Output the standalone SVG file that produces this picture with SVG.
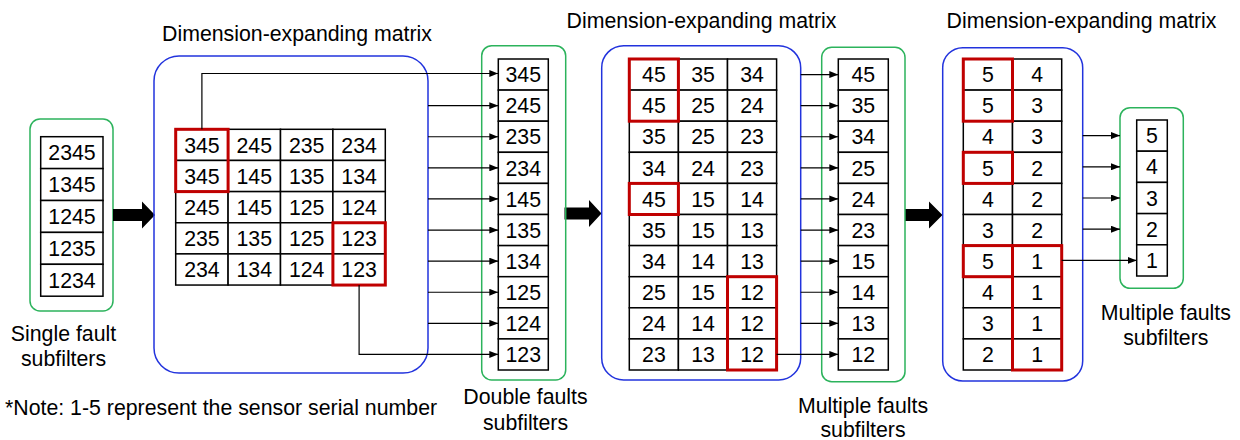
<svg xmlns="http://www.w3.org/2000/svg" width="1240" height="440" viewBox="0 0 1240 440">
<defs>
<marker id="ah" markerUnits="userSpaceOnUse" markerWidth="9" markerHeight="7" refX="9" refY="3.5" orient="auto"><path d="M0,0 L9,3.5 L0,7 z" fill="#000"/></marker>
<style>
.t{font-family:"Liberation Sans",Arial,sans-serif;font-size:21.3px;fill:#000;text-anchor:middle}
.n{font-family:"Liberation Sans",Arial,sans-serif;font-size:21.3px;fill:#000;text-anchor:start}
.c{fill:#fff;stroke:#000;stroke-width:1.5}
.r{fill:none;stroke:#c00000;stroke-width:3}
.b{fill:none;stroke:#2233dd;stroke-width:1.5}
.g{fill:none;stroke:#2cb35c;stroke-width:1.5}
.la{fill:none;stroke:#000;stroke-width:1.2;marker-end:url(#ah)}
.big{fill:#000}
</style>
</defs>

<!-- Titles and notes -->
<text class="t" x="297" y="40.5">Dimension-expanding matrix</text>
<text class="t" x="701.5" y="28">Dimension-expanding matrix</text>
<text class="t" x="1081.5" y="28">Dimension-expanding matrix</text>
<text class="n" x="5" y="415">*Note: 1-5 represent the sensor serial number</text>

<!-- Single fault subfilters -->
<g id="single">
<rect class="g" x="30" y="119" width="83" height="192" rx="10"/>
<rect class="c" x="40.7" y="136.7" width="62.3" height="31.9"/>
<rect class="c" x="40.7" y="168.6" width="62.3" height="31.9"/>
<rect class="c" x="40.7" y="200.5" width="62.3" height="31.9"/>
<rect class="c" x="40.7" y="232.4" width="62.3" height="31.9"/>
<rect class="c" x="40.7" y="264.3" width="62.3" height="31.9"/>
<text class="t" x="72" y="160.3">2345</text>
<text class="t" x="72" y="192.2">1345</text>
<text class="t" x="72" y="224.1">1245</text>
<text class="t" x="72" y="256">1235</text>
<text class="t" x="72" y="287.9">1234</text>
<text class="t" x="63.5" y="340.7">Single fault</text>
<text class="t" x="63.5" y="365.5">subfilters</text>
</g>

<!-- Big arrows -->
<g id="bigarrows">
<path class="big" d="M113,209 L142,209 L142,201.5 L155,215 L142,228.5 L142,221 L113,221 z"/>
<path class="big" d="M564.5,207.5 L589,207.5 L589,200 L601.5,213.5 L589,227 L589,219.5 L564.5,219.5 z"/>
<path class="big" d="M905,209 L929,209 L929,201.5 L942.5,215 L929,228.5 L929,221 L905,221 z"/>
</g>

<!-- Matrix 1 -->
<g id="matrix1">
<rect class="b" x="154" y="56" width="274" height="317" rx="25"/>
<g>
<rect class="c" x="175.7" y="129.3" width="52.4" height="31.15"/><rect class="c" x="228.1" y="129.3" width="52.4" height="31.15"/><rect class="c" x="280.5" y="129.3" width="52.4" height="31.15"/><rect class="c" x="332.9" y="129.3" width="52.4" height="31.15"/>
<rect class="c" x="175.7" y="160.45" width="52.4" height="31.15"/><rect class="c" x="228.1" y="160.45" width="52.4" height="31.15"/><rect class="c" x="280.5" y="160.45" width="52.4" height="31.15"/><rect class="c" x="332.9" y="160.45" width="52.4" height="31.15"/>
<rect class="c" x="175.7" y="191.6" width="52.4" height="31.15"/><rect class="c" x="228.1" y="191.6" width="52.4" height="31.15"/><rect class="c" x="280.5" y="191.6" width="52.4" height="31.15"/><rect class="c" x="332.9" y="191.6" width="52.4" height="31.15"/>
<rect class="c" x="175.7" y="222.75" width="52.4" height="31.15"/><rect class="c" x="228.1" y="222.75" width="52.4" height="31.15"/><rect class="c" x="280.5" y="222.75" width="52.4" height="31.15"/><rect class="c" x="332.9" y="222.75" width="52.4" height="31.15"/>
<rect class="c" x="175.7" y="253.9" width="52.4" height="31.15"/><rect class="c" x="228.1" y="253.9" width="52.4" height="31.15"/><rect class="c" x="280.5" y="253.9" width="52.4" height="31.15"/><rect class="c" x="332.9" y="253.9" width="52.4" height="31.15"/>
</g>
<text class="t" x="201.9" y="152.5">345</text><text class="t" x="254.3" y="152.5">245</text><text class="t" x="306.7" y="152.5">235</text><text class="t" x="359.1" y="152.5">234</text>
<text class="t" x="201.9" y="183.6">345</text><text class="t" x="254.3" y="183.6">145</text><text class="t" x="306.7" y="183.6">135</text><text class="t" x="359.1" y="183.6">134</text>
<text class="t" x="201.9" y="214.8">245</text><text class="t" x="254.3" y="214.8">145</text><text class="t" x="306.7" y="214.8">125</text><text class="t" x="359.1" y="214.8">124</text>
<text class="t" x="201.9" y="245.9">235</text><text class="t" x="254.3" y="245.9">135</text><text class="t" x="306.7" y="245.9">125</text><text class="t" x="359.1" y="245.9">123</text>
<text class="t" x="201.9" y="277.1">234</text><text class="t" x="254.3" y="277.1">134</text><text class="t" x="306.7" y="277.1">124</text><text class="t" x="359.1" y="277.1">123</text>
<rect class="r" x="175.7" y="129.3" width="52.4" height="62.3"/>
<rect class="r" x="332.9" y="222.75" width="52.4" height="62.3"/>
</g>

<!-- Double faults subfilters -->
<g id="double">
<rect class="g" x="481.7" y="45.7" width="84" height="334.3" rx="10"/>
<rect class="c" x="498.3" y="59" width="50" height="31.1"/>
<rect class="c" x="498.3" y="90.1" width="50" height="31.1"/>
<rect class="c" x="498.3" y="121.2" width="50" height="31.1"/>
<rect class="c" x="498.3" y="152.3" width="50" height="31.1"/>
<rect class="c" x="498.3" y="183.4" width="50" height="31.1"/>
<rect class="c" x="498.3" y="214.5" width="50" height="31.1"/>
<rect class="c" x="498.3" y="245.6" width="50" height="31.1"/>
<rect class="c" x="498.3" y="276.7" width="50" height="31.1"/>
<rect class="c" x="498.3" y="307.8" width="50" height="31.1"/>
<rect class="c" x="498.3" y="338.9" width="50" height="31.1"/>
<text class="t" x="523.3" y="82.2">345</text>
<text class="t" x="523.3" y="113.3">245</text>
<text class="t" x="523.3" y="144.4">235</text>
<text class="t" x="523.3" y="175.5">234</text>
<text class="t" x="523.3" y="206.6">145</text>
<text class="t" x="523.3" y="237.7">135</text>
<text class="t" x="523.3" y="268.8">134</text>
<text class="t" x="523.3" y="299.9">125</text>
<text class="t" x="523.3" y="331">124</text>
<text class="t" x="523.3" y="362.1">123</text>
<text class="t" x="525.5" y="404">Double faults</text>
<text class="t" x="525.5" y="430">subfilters</text>
</g>

<!-- Matrix 2 -->
<g id="matrix2">
<rect class="b" x="601.7" y="45.7" width="199" height="334.3" rx="22"/>
<g>
<rect class="c" x="629.3" y="59" width="49.1" height="31.1"/><rect class="c" x="678.4" y="59" width="49.1" height="31.1"/><rect class="c" x="727.5" y="59" width="49.1" height="31.1"/>
<rect class="c" x="629.3" y="90.1" width="49.1" height="31.1"/><rect class="c" x="678.4" y="90.1" width="49.1" height="31.1"/><rect class="c" x="727.5" y="90.1" width="49.1" height="31.1"/>
<rect class="c" x="629.3" y="121.2" width="49.1" height="31.1"/><rect class="c" x="678.4" y="121.2" width="49.1" height="31.1"/><rect class="c" x="727.5" y="121.2" width="49.1" height="31.1"/>
<rect class="c" x="629.3" y="152.3" width="49.1" height="31.1"/><rect class="c" x="678.4" y="152.3" width="49.1" height="31.1"/><rect class="c" x="727.5" y="152.3" width="49.1" height="31.1"/>
<rect class="c" x="629.3" y="183.4" width="49.1" height="31.1"/><rect class="c" x="678.4" y="183.4" width="49.1" height="31.1"/><rect class="c" x="727.5" y="183.4" width="49.1" height="31.1"/>
<rect class="c" x="629.3" y="214.5" width="49.1" height="31.1"/><rect class="c" x="678.4" y="214.5" width="49.1" height="31.1"/><rect class="c" x="727.5" y="214.5" width="49.1" height="31.1"/>
<rect class="c" x="629.3" y="245.6" width="49.1" height="31.1"/><rect class="c" x="678.4" y="245.6" width="49.1" height="31.1"/><rect class="c" x="727.5" y="245.6" width="49.1" height="31.1"/>
<rect class="c" x="629.3" y="276.7" width="49.1" height="31.1"/><rect class="c" x="678.4" y="276.7" width="49.1" height="31.1"/><rect class="c" x="727.5" y="276.7" width="49.1" height="31.1"/>
<rect class="c" x="629.3" y="307.8" width="49.1" height="31.1"/><rect class="c" x="678.4" y="307.8" width="49.1" height="31.1"/><rect class="c" x="727.5" y="307.8" width="49.1" height="31.1"/>
<rect class="c" x="629.3" y="338.9" width="49.1" height="31.1"/><rect class="c" x="678.4" y="338.9" width="49.1" height="31.1"/><rect class="c" x="727.5" y="338.9" width="49.1" height="31.1"/>
</g>
<text class="t" x="653.9" y="82.2">45</text><text class="t" x="703" y="82.2">35</text><text class="t" x="752.1" y="82.2">34</text>
<text class="t" x="653.9" y="113.3">45</text><text class="t" x="703" y="113.3">25</text><text class="t" x="752.1" y="113.3">24</text>
<text class="t" x="653.9" y="144.4">35</text><text class="t" x="703" y="144.4">25</text><text class="t" x="752.1" y="144.4">23</text>
<text class="t" x="653.9" y="175.5">34</text><text class="t" x="703" y="175.5">24</text><text class="t" x="752.1" y="175.5">23</text>
<text class="t" x="653.9" y="206.6">45</text><text class="t" x="703" y="206.6">15</text><text class="t" x="752.1" y="206.6">14</text>
<text class="t" x="653.9" y="237.7">35</text><text class="t" x="703" y="237.7">15</text><text class="t" x="752.1" y="237.7">13</text>
<text class="t" x="653.9" y="268.8">34</text><text class="t" x="703" y="268.8">14</text><text class="t" x="752.1" y="268.8">13</text>
<text class="t" x="653.9" y="299.9">25</text><text class="t" x="703" y="299.9">15</text><text class="t" x="752.1" y="299.9">12</text>
<text class="t" x="653.9" y="331">24</text><text class="t" x="703" y="331">14</text><text class="t" x="752.1" y="331">12</text>
<text class="t" x="653.9" y="362.1">23</text><text class="t" x="703" y="362.1">13</text><text class="t" x="752.1" y="362.1">12</text>
<rect class="r" x="629.3" y="59" width="49.1" height="62.2"/>
<rect class="r" x="629.3" y="183.4" width="49.1" height="31.1"/>
<rect class="r" x="727.5" y="276.7" width="49.1" height="93.3"/>
</g>

<!-- Multiple faults subfilters (middle) -->
<g id="multiple1">
<rect class="g" x="821.7" y="47.3" width="83.3" height="334.4" rx="10"/>
<rect class="c" x="838.3" y="59" width="50" height="31.1"/>
<rect class="c" x="838.3" y="90.1" width="50" height="31.1"/>
<rect class="c" x="838.3" y="121.2" width="50" height="31.1"/>
<rect class="c" x="838.3" y="152.3" width="50" height="31.1"/>
<rect class="c" x="838.3" y="183.4" width="50" height="31.1"/>
<rect class="c" x="838.3" y="214.5" width="50" height="31.1"/>
<rect class="c" x="838.3" y="245.6" width="50" height="31.1"/>
<rect class="c" x="838.3" y="276.7" width="50" height="31.1"/>
<rect class="c" x="838.3" y="307.8" width="50" height="31.1"/>
<rect class="c" x="838.3" y="338.9" width="50" height="31.1"/>
<text class="t" x="863.3" y="82.2">45</text>
<text class="t" x="863.3" y="113.3">35</text>
<text class="t" x="863.3" y="144.4">34</text>
<text class="t" x="863.3" y="175.5">25</text>
<text class="t" x="863.3" y="206.6">24</text>
<text class="t" x="863.3" y="237.7">23</text>
<text class="t" x="863.3" y="268.8">15</text>
<text class="t" x="863.3" y="299.9">14</text>
<text class="t" x="863.3" y="331">13</text>
<text class="t" x="863.3" y="362.1">12</text>
<text class="t" x="863" y="412.5">Multiple faults</text>
<text class="t" x="863" y="436.5">subfilters</text>
</g>

<!-- Matrix 3 -->
<g id="matrix3">
<rect class="b" x="942.7" y="47.7" width="140" height="333.3" rx="20"/>
<g>
<rect class="c" x="963.3" y="59" width="49.2" height="31.1"/><rect class="c" x="1012.5" y="59" width="49.2" height="31.1"/>
<rect class="c" x="963.3" y="90.1" width="49.2" height="31.1"/><rect class="c" x="1012.5" y="90.1" width="49.2" height="31.1"/>
<rect class="c" x="963.3" y="121.2" width="49.2" height="31.1"/><rect class="c" x="1012.5" y="121.2" width="49.2" height="31.1"/>
<rect class="c" x="963.3" y="152.3" width="49.2" height="31.1"/><rect class="c" x="1012.5" y="152.3" width="49.2" height="31.1"/>
<rect class="c" x="963.3" y="183.4" width="49.2" height="31.1"/><rect class="c" x="1012.5" y="183.4" width="49.2" height="31.1"/>
<rect class="c" x="963.3" y="214.5" width="49.2" height="31.1"/><rect class="c" x="1012.5" y="214.5" width="49.2" height="31.1"/>
<rect class="c" x="963.3" y="245.6" width="49.2" height="31.1"/><rect class="c" x="1012.5" y="245.6" width="49.2" height="31.1"/>
<rect class="c" x="963.3" y="276.7" width="49.2" height="31.1"/><rect class="c" x="1012.5" y="276.7" width="49.2" height="31.1"/>
<rect class="c" x="963.3" y="307.8" width="49.2" height="31.1"/><rect class="c" x="1012.5" y="307.8" width="49.2" height="31.1"/>
<rect class="c" x="963.3" y="338.9" width="49.2" height="31.1"/><rect class="c" x="1012.5" y="338.9" width="49.2" height="31.1"/>
</g>
<text class="t" x="987.9" y="82.2">5</text><text class="t" x="1037.1" y="82.2">4</text>
<text class="t" x="987.9" y="113.3">5</text><text class="t" x="1037.1" y="113.3">3</text>
<text class="t" x="987.9" y="144.4">4</text><text class="t" x="1037.1" y="144.4">3</text>
<text class="t" x="987.9" y="175.5">5</text><text class="t" x="1037.1" y="175.5">2</text>
<text class="t" x="987.9" y="206.6">4</text><text class="t" x="1037.1" y="206.6">2</text>
<text class="t" x="987.9" y="237.7">3</text><text class="t" x="1037.1" y="237.7">2</text>
<text class="t" x="987.9" y="268.8">5</text><text class="t" x="1037.1" y="268.8">1</text>
<text class="t" x="987.9" y="299.9">4</text><text class="t" x="1037.1" y="299.9">1</text>
<text class="t" x="987.9" y="331">3</text><text class="t" x="1037.1" y="331">1</text>
<text class="t" x="987.9" y="362.1">2</text><text class="t" x="1037.1" y="362.1">1</text>
<rect class="r" x="963.3" y="59" width="49.2" height="62.2"/>
<rect class="r" x="963.3" y="152.3" width="49.2" height="31.1"/>
<rect class="r" x="963.3" y="245.6" width="49.2" height="31.1"/>
<rect class="r" x="1012.5" y="245.6" width="49.2" height="124.4"/>
</g>

<!-- Multiple faults subfilters (right) -->
<g id="multiple2">
<rect class="g" x="1120" y="107.7" width="63.3" height="180.6" rx="10"/>
<rect class="c" x="1136.7" y="120" width="30.6" height="31.2"/>
<rect class="c" x="1136.7" y="151.2" width="30.6" height="31.2"/>
<rect class="c" x="1136.7" y="182.4" width="30.6" height="31.2"/>
<rect class="c" x="1136.7" y="213.6" width="30.6" height="31.2"/>
<rect class="c" x="1136.7" y="244.8" width="30.6" height="31.2"/>
<text class="t" x="1152" y="143.2">5</text>
<text class="t" x="1152" y="174.4">4</text>
<text class="t" x="1152" y="205.6">3</text>
<text class="t" x="1152" y="236.8">2</text>
<text class="t" x="1152" y="268">1</text>
<text class="t" x="1165.8" y="320">Multiple faults</text>
<text class="t" x="1165.8" y="345">subfilters</text>
</g>

<!-- Connectors -->
<g id="connectors">
<path class="la" d="M201.9,129.3 V73.5 H498.3"/>
<path class="la" d="M428,105.65 H498.3"/>
<path class="la" d="M428,136.75 H498.3"/>
<path class="la" d="M428,167.85 H498.3"/>
<path class="la" d="M428,198.95 H498.3"/>
<path class="la" d="M428,230.05 H498.3"/>
<path class="la" d="M428,261.15 H498.3"/>
<path class="la" d="M428,292.25 H498.3"/>
<path class="la" d="M428,323.35 H498.3"/>
<path class="la" d="M359.1,285 V354.45 H498.3"/>

<path class="la" d="M800.7,74.55 H838.3"/>
<path class="la" d="M800.7,105.65 H838.3"/>
<path class="la" d="M800.7,136.75 H838.3"/>
<path class="la" d="M800.7,167.85 H838.3"/>
<path class="la" d="M800.7,198.95 H838.3"/>
<path class="la" d="M800.7,230.05 H838.3"/>
<path class="la" d="M800.7,261.15 H838.3"/>
<path class="la" d="M800.7,292.25 H838.3"/>
<path class="la" d="M800.7,323.35 H838.3"/>
<path class="la" d="M776.6,354.45 H838.3"/>

<path class="la" d="M1082.7,135.6 H1120"/>
<path class="la" d="M1082.7,166.8 H1120"/>
<path class="la" d="M1082.7,198 H1120"/>
<path class="la" d="M1082.7,229.2 H1120"/>
<path class="la" d="M1061.7,260.4 H1136.7"/>
</g>
</svg>
